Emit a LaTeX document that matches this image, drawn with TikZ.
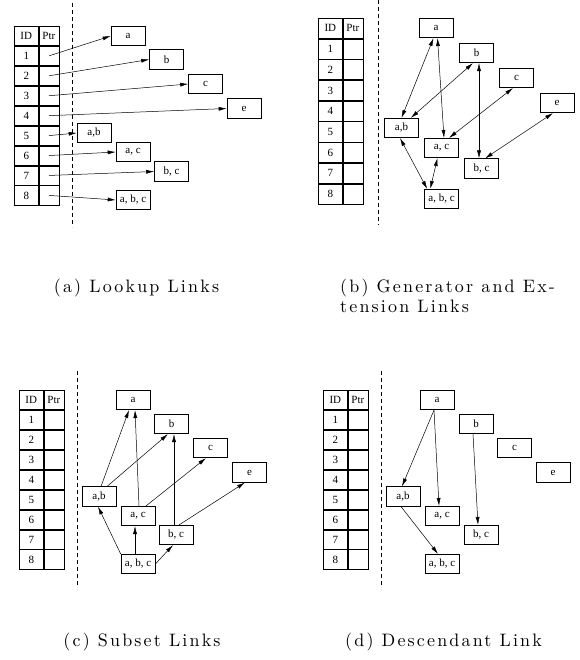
\documentclass[tikz,border=0pt]{standalone}
\usepackage{fontspec}
\usetikzlibrary{arrows.meta}
\newfontfamily\boxfont{Liberation Serif}
\newfontfamily\capfont{lmroman10-regular.otf}[LetterSpace=12]

\tikzset{
  cell/.style={draw, line width=0.6pt, inner sep=0pt, font=\boxfont\fontsize{11}{12}\selectfont},
  setbox/.style={draw, line width=0.6pt, inner sep=0pt, minimum width=34pt, minimum height=19.5pt,
    font=\boxfont\fontsize{11}{12}\selectfont},
  lnk/.style={-{Latex[length=8pt,width=4pt]}, line width=0.5pt},
  bilnk/.style={{Latex[length=8pt,width=4pt]}-{Latex[length=8pt,width=4pt]}, line width=0.5pt},
  sep/.style={dash pattern=on 4pt off 3pt, line width=0.6pt},
  caption/.style={anchor=base, inner sep=0pt, align=left,
    font=\capfont\fontsize{18}{20}\selectfont}
}

% ID / Ptr table: prefix, x, y, row height
\newcommand{\idtable}[4]{%
  \node[cell, minimum width=24pt, minimum height=#4, anchor=north west] (#1id0) at (#2,#3) {ID};
  \node[cell, minimum width=20pt, minimum height=#4, anchor=west] (#1ptr0) at (#1id0.east) {Ptr};
  \foreach \r [count=\p from 0] in {1,...,8} {
    \node[cell, minimum width=24pt, minimum height=#4, anchor=north] (#1id\r) at (#1id\p.south) {\r};
    \node[cell, minimum width=20pt, minimum height=#4, anchor=west] (#1ptr\r) at (#1id\r.east) {};
  }%
}

% the eight itemsets of one panel: prefix, then x/y of each box
\newcommand{\itemsets}[2]{%
  \foreach \n/\t/\px/\py in {#2} {
    \node[setbox] (#1-\n) at (\px,\py) {\t};
  }%
}

\begin{document}
\begin{tikzpicture}[x=1pt, y=-1pt]
  \useasboundingbox (0,0) rectangle (579,660);

  % (a) lookup links
  \idtable{A}{14}{26}{19.33pt}
  \coordinate (A-top) at (72,3);
  \coordinate (A-bot) at (72,227);
  \draw[sep] (A-top) -- (A-bot);
  \itemsets{A}{a/a/128/36, b/b/166.5/59.5, c/c/205.5/84, e/e/244/108.5,
    ab/{a,b}/94/133, ac/{a, c}/133/152, bc/{b, c}/171.5/171.5, abc/{a, b, c}/133/200}
  \draw[lnk] (Aptr1.center) -- (A-a.west);
  \draw[lnk] (Aptr2.center) -- (A-b.west);
  \draw[lnk] (Aptr3.center) -- (A-c.west);
  \draw[lnk] (Aptr4.center) -- (A-e.west);
  \draw[lnk] (Aptr5.center) -- (A-ab.west);
  \draw[lnk] (Aptr6.center) -- (A-ac.west);
  \draw[lnk] (Aptr7.center) -- (A-bc.west);
  \draw[lnk] (Aptr8.center) -- (A-abc.west);
  \node[caption] (A-cap) at (136.5,292) {(a) Lookup Links};

  % (b) generator and extension links
  \idtable{B}{318}{18}{20.1pt}
  \coordinate (B-top) at (378,0);
  \coordinate (B-bot) at (378,225);
  \draw[sep] (B-top) -- (B-bot);
  \itemsets{B}{a/a/436/28, b/b/476.5/53, c/c/516.5/78, e/e/557/103,
    ab/{a,b}/401.5/128, ac/{a, c}/441.5/148, bc/{b, c}/481.5/168.5, abc/{a, b, c}/441.5/199}
  \draw[bilnk] ([xshift=-2.5pt]B-a.south) -- (B-ab.north);
  \draw[bilnk] ([xshift=1.5pt]B-a.south) -- ([xshift=2.5pt]B-ac.north);
  \draw[bilnk] ([xshift=-3.5pt]B-b.south) -- ([xshift=-8pt]B-ab.north east);
  \draw[bilnk] ([xshift=2.5pt]B-b.south) -- ([xshift=-2.5pt]B-bc.north);
  \draw[bilnk] ([xshift=-3.5pt]B-c.south) -- ([xshift=7.5pt]B-ac.north);
  \draw[bilnk] ([xshift=-4pt]B-e.south) -- ([xshift=3.5pt]B-bc.north);
  \draw[bilnk] ([xshift=-1.5pt]B-ab.south) -- ([xshift=3pt]B-abc.north west);
  \draw[bilnk] ([xshift=-4pt]B-ac.south) -- ([xshift=6pt]B-abc.north west);
  \node[caption, anchor=base west] (B-cap) at (340,312) {(b) Generator and Ex-\\tension Links};

  % (c) subset links
  \idtable{C}{19}{390}{19.33pt}
  \coordinate (C-top) at (77,371);
  \coordinate (C-bot) at (77,588);
  \draw[sep] (C-top) -- (C-bot);
  \itemsets{C}{a/a/133/400, b/b/171.5/424, c/c/210.5/448, e/e/249.5/472.5,
    ab/{a,b}/99/496.5, ac/{a, c}/138/516, bc/{b, c}/176/535, abc/{a, b, c}/138/564}
  \draw[lnk] ([xshift=2pt]C-ab.north) -- ([xshift=-4pt]C-a.south);
  \draw[lnk] ([xshift=8pt]C-ab.north) -- ([xshift=-3.5pt]C-b.south);
  \draw[lnk] ([xshift=1pt]C-ac.north) -- ([xshift=2pt]C-a.south);
  \draw[lnk] ([xshift=8pt]C-ac.north) -- ([xshift=-4.5pt]C-c.south);
  \draw[lnk] ([xshift=-2pt]C-bc.north) -- ([xshift=2.5pt]C-b.south);
  \draw[lnk] ([xshift=3pt]C-bc.north) -- ([xshift=-4.5pt]C-e.south);
  \draw[lnk] (C-abc.north west) -- ([xshift=-1pt]C-ab.south);
  \draw[lnk] ([xshift=-3pt]C-abc.north) -- ([xshift=-3pt]C-ac.south);
  \draw[lnk] (C-abc.east) -- ([xshift=-3pt]C-bc.south);
  \node[caption] (C-cap) at (142,646) {(c) Subset Links};

  % (d) descendant link
  \idtable{D}{323}{390}{19.33pt}
  \coordinate (D-top) at (381,371);
  \coordinate (D-bot) at (381,588);
  \draw[sep] (D-top) -- (D-bot);
  \itemsets{D}{a/a/437/400, b/b/476/424, c/c/514.5/448, e/e/553/472.5,
    ab/{a,b}/403/496.5, ac/{a, c}/442/516, bc/{b, c}/481/535, abc/{a, b, c}/442/564}
  \draw[lnk] ([xshift=-3pt]D-a.south) -- ([xshift=-1pt]D-ab.north);
  \draw[lnk] ([xshift=-3pt]D-a.south) -- ([xshift=-3pt]D-ac.north);
  \draw[lnk] ([xshift=-3pt]D-b.south) -- ([xshift=-3pt]D-bc.north);
  \draw[lnk] ([xshift=-2pt]D-ab.south) -- ([xshift=-4pt]D-abc.north);
  \node[caption, anchor=base west] (D-cap) at (345,646) {(d) Descendant Link};
\end{tikzpicture}
\end{document}
